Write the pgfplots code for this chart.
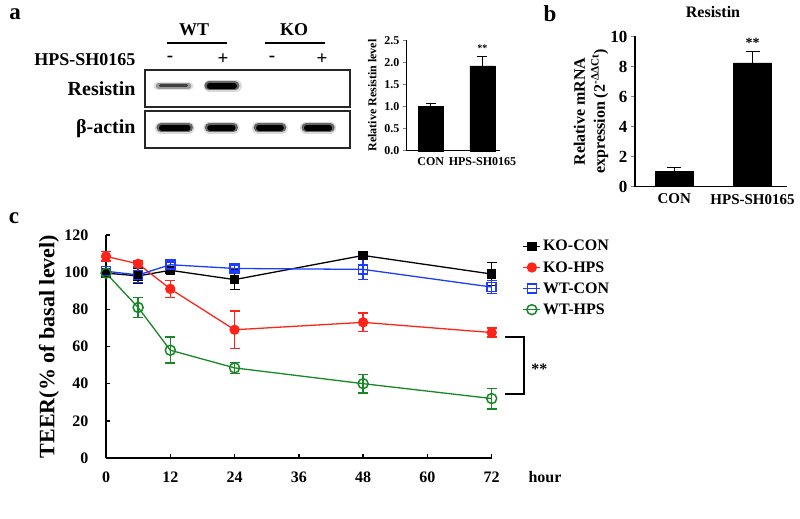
\documentclass[border=0pt]{standalone}
\usepackage{fontspec}
\setmainfont{Liberation Serif}
\usepackage{pgfplots}
\pgfplotsset{compat=1.18}
\pgfplotsset{/pgf/number format/assume math mode=true}
\definecolor{cred}{RGB}{255,35,25}
\definecolor{cblue}{RGB}{30,60,255}
\definecolor{cgreen}{RGB}{25,135,40}
\newcommand{\fsz}[1]{\fontsize{#1}{#1}\selectfont\bfseries}

\begin{document}
\begin{tikzpicture}
\path[use as bounding box] (0pt,0pt) rectangle (800pt,-519pt);

% ---------- panel a: texts ----------
\node[font=\fsz{23}] at (15pt,-14pt) {a};
\node[font=\fsz{18}] at (194pt,-30pt) {WT};
\node[font=\fsz{18}] at (294pt,-30pt) {KO};
\draw[line width=1.8pt] (167pt,-43pt) -- (227pt,-43pt);
\draw[line width=1.8pt] (265pt,-43pt) -- (325pt,-43pt);
\node[font=\fsz{18}, anchor=east] at (139pt,-60pt) {HPS-SH0165};
\node[font=\fsz{19}] at (170pt,-59pt) {-};
\node[font=\fsz{19}] at (223pt,-59pt) {+};
\node[font=\fsz{19}] at (272pt,-59pt) {-};
\node[font=\fsz{19}] at (322pt,-59pt) {+};
\node[font=\fsz{20}, anchor=east] at (139pt,-89pt) {Resistin};
\node[font=\fsz{20}, anchor=east] at (139pt,-129pt) {β-actin};

% ---------- blot: Resistin ----------
\begin{axis}[at={(145pt,-107pt)}, anchor=south west, scale only axis,
  width=205pt, height=37pt, xmin=0.42, xmax=4.66, ymin=0, ymax=1,
  xtick=\empty, ytick=\empty, axis line style={line width=1.2pt, black!85}]
\addplot[line width=8pt, black!12, line cap=round] coordinates {(0.68,0.57) (1.34,0.57)};
\addplot[line width=5.5pt, black!40, line cap=round] coordinates {(0.70,0.57) (1.32,0.57)};
\addplot[line width=3pt, black!75, line cap=round] coordinates {(0.74,0.57) (1.28,0.57)};
\addplot[line width=12pt, black!15, line cap=round] coordinates {(1.76,0.57) (2.30,0.57)};
\addplot[line width=9pt, black!60, line cap=round] coordinates {(1.74,0.57) (2.28,0.57)};
\addplot[line width=6pt, black, line cap=round] coordinates {(1.76,0.57) (2.26,0.57)};
\end{axis}

% ---------- blot: beta-actin ----------
\begin{axis}[at={(145pt,-148pt)}, anchor=south west, scale only axis,
  width=205pt, height=37pt, xmin=0.42, xmax=4.66, ymin=0, ymax=1,
  xtick=\empty, ytick=\empty, axis line style={line width=1.2pt, black!85}]
\addplot[line width=12pt, black!15, line cap=round] coordinates {(0.75,0.55) (1.32,0.55)};
\addplot[line width=9pt, black!60, line cap=round] coordinates {(0.75,0.55) (1.32,0.55)};
\addplot[line width=6pt, black, line cap=round] coordinates {(0.77,0.55) (1.30,0.55)};
\addplot[line width=12pt, black!15, line cap=round] coordinates {(1.75,0.55) (2.25,0.55)};
\addplot[line width=9pt, black!60, line cap=round] coordinates {(1.75,0.55) (2.25,0.55)};
\addplot[line width=6pt, black, line cap=round] coordinates {(1.77,0.55) (2.23,0.55)};
\addplot[line width=12pt, black!15, line cap=round] coordinates {(2.76,0.55) (3.25,0.55)};
\addplot[line width=9pt, black!60, line cap=round] coordinates {(2.76,0.55) (3.25,0.55)};
\addplot[line width=6pt, black, line cap=round] coordinates {(2.78,0.55) (3.23,0.55)};
\addplot[line width=12pt, black!15, line cap=round] coordinates {(3.75,0.55) (4.25,0.55)};
\addplot[line width=9pt, black!60, line cap=round] coordinates {(3.75,0.55) (4.25,0.55)};
\addplot[line width=6pt, black, line cap=round] coordinates {(3.77,0.55) (4.23,0.55)};
\end{axis}

% ---------- panel a: quantification ----------
\begin{axis}[at={(406pt,-150.7pt)}, anchor=south west, scale only axis,
  width=94pt, height=110.4pt, xmin=-0.48, xmax=1.34, ymin=0, ymax=2.5,
  axis x line*=bottom, axis y line*=left, axis line style={line width=1pt,-},
  ytick={0,0.5,1,1.5,2,2.5},
  yticklabel style={/pgf/number format/.cd, fixed, fixed zerofill, precision=1},
  tick label style={font=\fsz{12}},
  xtick={0,1}, xticklabels={CON,HPS-SH0165}, xtick style={draw=none},
  ytick style={line width=1pt}, tick align=outside, major tick length=3pt,
  ylabel={Relative Resistin level},
  ylabel style={font=\fsz{12}, at={(axis description cs:-0.36,0.5)}, anchor=center},
  clip=false]
\addplot[ybar, bar width=25pt, fill=black, draw=black,
  error bars/.cd, y dir=plus, y explicit, error bar style={line width=1pt},
  error mark options={rotate=90, mark size=5pt, line width=1pt}]
  coordinates {(0,1.0) +- (0,0.08) (1,1.92) +- (0,0.22)};
\node[font=\fsz{10}] at (axis cs:1,2.33) {**};
\end{axis}

% ---------- panel b ----------
\node[font=\fsz{23}] at (550pt,-14pt) {b};
\node[font=\fsz{16}] at (713pt,-12.5pt) {Resistin};
\begin{axis}[at={(635pt,-186.5pt)}, anchor=south west, scale only axis,
  width=152pt, height=150pt, xmin=-0.5, xmax=1.44, ymin=0, ymax=10,
  axis x line*=bottom, axis y line*=left, axis line style={line width=1.3pt,-},
  ytick={0,2,...,10}, xtick={0,1}, xticklabels={CON,HPS-SH0165},
  xtick style={draw=none}, ytick style={line width=1.3pt},
  tick align=outside, major tick length=4pt,
  tick label style={font=\fsz{17}}, xticklabel style={font=\fsz{15}},
  ylabel={Relative mRNA\\expression (2\textsuperscript{-ΔΔCt})},
  ylabel style={font=\fontsize{16}{20}\selectfont\bfseries, align=center,
    at={(axis description cs:-0.29,0.5)}, anchor=center},
  clip=false]
\addplot[ybar, bar width=38pt, fill=black, draw=black,
  error bars/.cd, y dir=plus, y explicit, error bar style={line width=1.3pt},
  error mark options={rotate=90, mark size=7pt, line width=1.3pt}]
  coordinates {(0,1.0) +- (0,0.25) (1,8.25) +- (0,0.75)};
\node[font=\fsz{14}] at (axis cs:1,9.6) {**};
\end{axis}

% ---------- panel c ----------
\node[font=\fsz{23}] at (14pt,-218pt) {c};
\begin{axis}[at={(106pt,-458pt)}, anchor=south west, scale only axis,
  width=385.7pt, height=223pt, xmin=0, xmax=72, ymin=0, ymax=120,
  axis x line*=bottom, axis y line*=left, axis line style={line width=1.6pt,-},
  tick align=inside, major tick length=4pt, tick style={line width=1.5pt, black},
  xtick={0,12,...,72}, ytick={0,20,...,120},
  tick label style={font=\fsz{16}},
  yticklabel style={xshift=-14pt}, xticklabel style={yshift=-10pt},
  ylabel={TEER(\% of basal level)},
  ylabel style={font=\fsz{22}, at={(axis description cs:-0.148,0.5)}, anchor=center},
  clip=false,
  legend style={at={(axis description cs:1.072,0.995)}, anchor=north west,
    draw=none, fill=none, font=\fsz{16}, row sep=5pt,
    nodes={inner sep=2pt}},
  legend cell align=left]
\addplot[black, line width=1.3pt, mark=square*, mark size=4pt, mark options={solid},
  error bars/.cd, y dir=both, y explicit, error bar style={line width=1.5pt},
  error mark options={rotate=90, mark size=5pt, line width=1.5pt}]
  coordinates {(0,99.5) +- (0,1) (6,98) +- (0,4) (12,101) +- (0,1.5)
               (24,96) +- (0,5.4) (48,109) +- (0,2) (72,99) +- (0,6.3)};
\addlegendentry{KO-CON}
\addplot[cred, line width=1.3pt, mark=*, mark size=4.5pt, mark options={solid},
  error bars/.cd, y dir=both, y explicit, error bar style={line width=1.5pt},
  error mark options={rotate=90, mark size=5pt, line width=1.5pt}]
  coordinates {(0,108.5) +- (0,2.5) (6,104.5) +- (0,1.5) (12,91) +- (0,4.5)
               (24,69) +- (0,10) (48,73) +- (0,5) (72,67.5) +- (0,2.5)};
\addlegendentry{KO-HPS}
\addplot[cblue, line width=1.3pt, mark=square, mark size=4.5pt,
  mark options={solid, fill=white, line width=1.5pt},
  error bars/.cd, y dir=both, y explicit, error bar style={line width=1.5pt},
  error mark options={rotate=90, mark size=5pt, line width=1.5pt}]
  coordinates {(0,100.5) +- (0,1) (6,98.5) +- (0,4) (12,104) +- (0,1.5)
               (24,102) +- (0,1.5) (48,101.5) +- (0,5.5) (72,92) +- (0,3.5)};
\addlegendentry{WT-CON}
\addplot[cgreen, line width=1.3pt, mark=o, mark size=5pt,
  mark options={solid, fill=white, line width=1.5pt},
  error bars/.cd, y dir=both, y explicit, error bar style={line width=1.5pt},
  error mark options={rotate=90, mark size=5pt, line width=1.5pt}]
  coordinates {(0,99.5) +- (0,1) (6,81) +- (0,5.5) (12,58) +- (0,7)
               (24,48.5) +- (0,3) (48,40) +- (0,5) (72,32) +- (0,5.5)};
\addlegendentry{WT-HPS}
\draw[line width=1.5pt] (axis cs:74.5,65.1) -- (axis cs:78,65.1) -- (axis cs:78,34.4) -- (axis cs:74.5,34.4);
\node[font=\fsz{16}] at (axis cs:80.9,47.8) {**};
\end{axis}
\node[font=\fsz{16}] at (545pt,-477pt) {hour};
\end{tikzpicture}
\end{document}
